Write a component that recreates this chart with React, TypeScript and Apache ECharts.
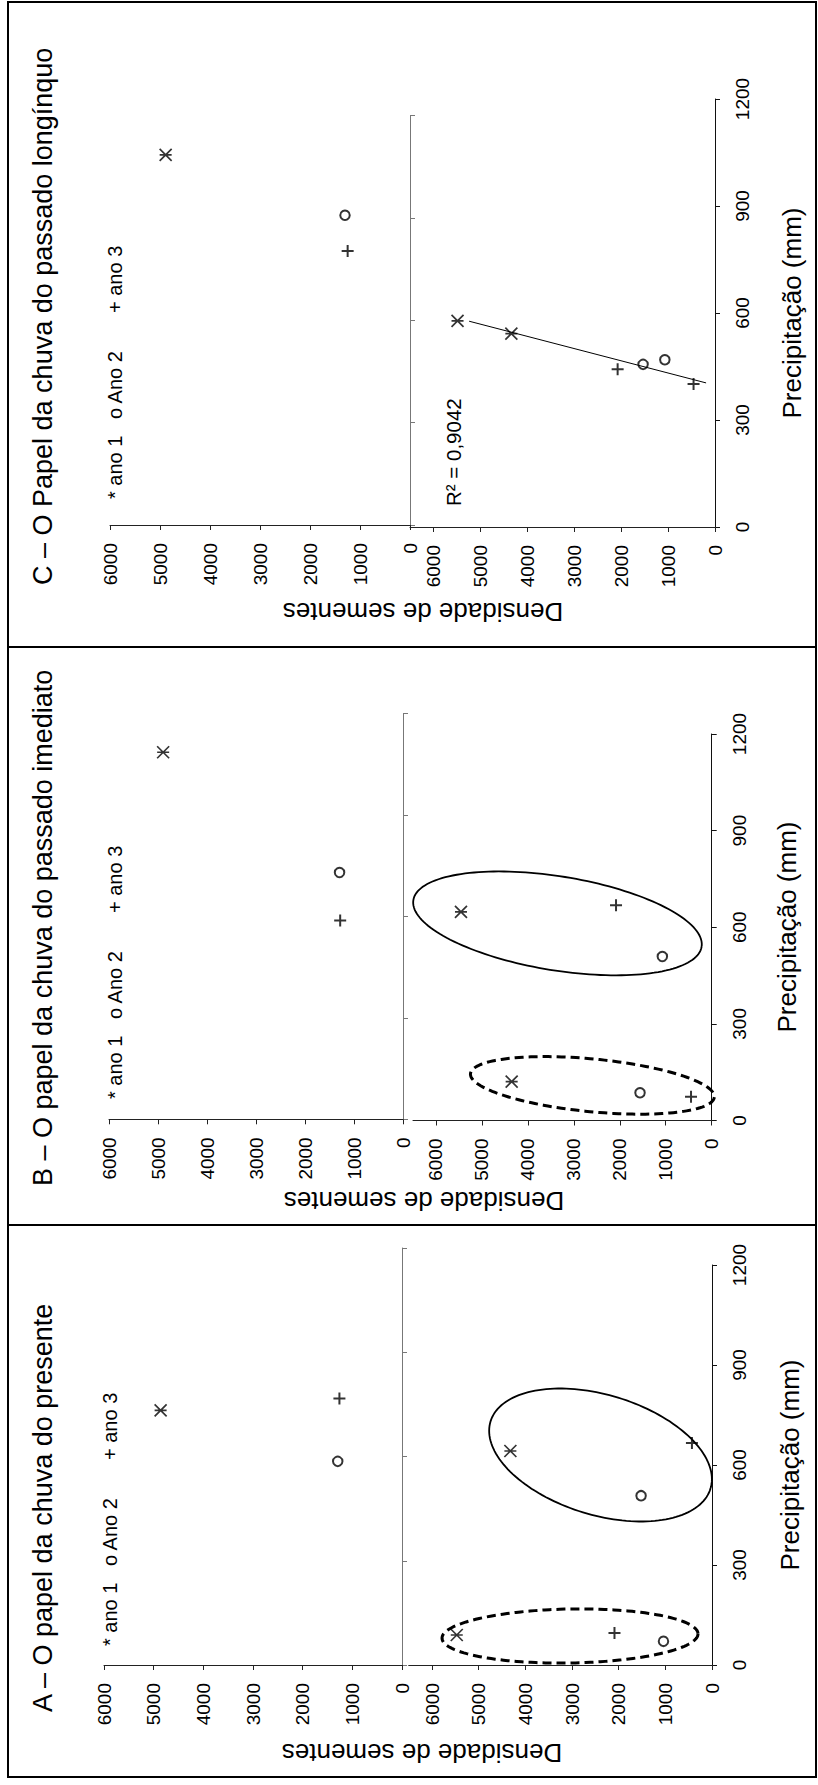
import React, { useEffect, useRef } from 'react';
import * as echarts from 'echarts';

const FONT = 'Liberation Sans, Arial, Helvetica, sans-serif';

// ---------- texts ----------
const panelTitles = [
  'A – O papel da chuva do presente',
  'B – O papel da chuva do passado imediato',
  'C – O Papel da chuva do passado longínquo',
];
const legendLabels = ['* ano 1', 'o Ano 2', '+ ano 3'];
const densityTitle = 'Densidade de sementes';
const precipTitle = 'Precipitação (mm)';
const r2Label = 'R² = 0,9042';

// ---------- tick values ----------
const densityTicks = [0, 1000, 2000, 3000, 4000, 5000, 6000];
const precipTicks = [0, 300, 600, 900, 1200];

// ---------- data: [density (seeds), precipitation (mm)] ----------
// Panel A – presente
const aUpperAno1 = [[4860, 733]];
const aUpperAno2 = [[1294, 586]];
const aUpperAno3 = [[1260, 767]];
const aLowerAno1 = [[5470, 90], [4321, 642]];
const aLowerAno2 = [[1040, 71], [1520, 508]];
const aLowerAno3 = [[2090, 96], [430, 666]];
// Panel B – passado imediato
const bUpperAno1 = [[4895, 1086]];
const bUpperAno2 = [[1295, 730]];
const bUpperAno3 = [[1282, 588]];
const bLowerAno1 = [[4353, 121], [5456, 648]];
const bLowerAno2 = [[1560, 86], [1074, 509]];
const bLowerAno3 = [[450, 74], [2082, 668]];
// Panel C – passado longínquo
const cUpperAno1 = [[4887, 1085]];
const cUpperAno2 = [[1300, 908]];
const cUpperAno3 = [[1247, 803]];
const cLowerAno1 = [[5487, 578], [4340, 542]];
const cLowerAno2 = [[1533, 456], [1069, 469]];
const cLowerAno3 = [[2075, 442], [457, 401]];
const cTrend = [[190, 404], [5240, 577]];

// ellipse centres (data units) – annotation groups
const aEllipseCentres = [[2389, 630], [3043, 87]];
const bEllipseCentres = [[3356, 612], [2596, 109]];

// ---------- layout (pixels) ----------
const ellipseShapesA = [
  { a: 115, b: 60, rot: 17, dashed: false },
  { a: 128, b: 27, rot: -1, dashed: true },
];
const ellipseShapesB = [
  { a: 146, b: 47, rot: 9.2, dashed: false },
  { a: 122.5, b: 26.4, rot: 5.5, dashed: true },
];

const layouts = [
  {
    upper: { left: 104, top: 1248, width: 298, height: 417 },
    lower: { left: 408.7, top: 1265, width: 303.3, height: 400 },
    title: [43, 1712], legend: [110, 1646], dens: [422, 1753], precip: [790, 1465],
  },
  {
    upper: { left: 109, top: 713.7, width: 294, height: 405.6 },
    lower: { left: 413, top: 734, width: 298.7, height: 386.5 },
    title: [43, 1186], legend: [115, 1099], dens: [424, 1201], precip: [787, 927],
  },
  {
    upper: { left: 110, top: 115.6, width: 300, height: 409.4 },
    lower: { left: 410, top: 99, width: 305, height: 428 },
    title: [43, 585], legend: [115, 499], dens: [423, 612], precip: [792, 313],
  },
];
const legendOffsets = [0, 80, 186];

const STAR = 'path://M0,0L12,12M12,0L0,12M0,6L12,6';
const PLUS = 'path://M0,6L12,6M6,0L6,12';

const panelData = [
  { upper: [aUpperAno1, aUpperAno2, aUpperAno3], lower: [aLowerAno1, aLowerAno2, aLowerAno3] },
  { upper: [bUpperAno1, bUpperAno2, bUpperAno3], lower: [bLowerAno1, bLowerAno2, bLowerAno3] },
  { upper: [cUpperAno1, cUpperAno2, cUpperAno3], lower: [cLowerAno1, cLowerAno2, cLowerAno3] },
];

const plainNumber = (v: number) => String(Math.round(v));

function markerSeries(gridIdx: number, sets: number[][][]) {
  const styles = [
    { symbol: STAR, symbolSize: 12, borderWidth: 1.7 },
    { symbol: 'circle', symbolSize: 9.5, borderWidth: 2 },
    { symbol: PLUS, symbolSize: 12, borderWidth: 2 },
  ];
  return sets.map((d, k) => ({
    type: 'scatter',
    name: legendLabels[k],
    xAxisIndex: gridIdx,
    yAxisIndex: gridIdx,
    data: d,
    symbol: styles[k].symbol,
    symbolSize: styles[k].symbolSize,
    clip: false,
    silent: true,
    z: 5,
    itemStyle: { color: 'rgba(0,0,0,0)', borderColor: '#000', borderWidth: styles[k].borderWidth },
  }));
}

function ellipseSeries(gridIdx: number, centres: number[][], shapes: any[]) {
  return {
    type: 'custom',
    xAxisIndex: gridIdx,
    yAxisIndex: gridIdx,
    clip: false,
    silent: true,
    z: 3,
    data: centres,
    renderItem: (params: any, api: any) => {
      const c = api.coord([api.value(0), api.value(1)]);
      const s = shapes[params.dataIndex];
      const th = (s.rot * Math.PI) / 180;
      const pts: number[][] = [];
      for (let k = 0; k <= 160; k++) {
        const t = (k / 160) * Math.PI * 2;
        const ex = s.a * Math.cos(t);
        const ey = s.b * Math.sin(t);
        pts.push([c[0] + ex * Math.cos(th) - ey * Math.sin(th), c[1] + ex * Math.sin(th) + ey * Math.cos(th)]);
      }
      return {
        type: 'polyline',
        shape: { points: pts },
        style: {
          fill: 'none',
          stroke: '#000',
          lineWidth: s.dashed ? 3 : 1.8,
          lineDash: s.dashed ? [9, 5] : null,
        },
      };
    },
  };
}

function buildOption() {
  const grids: any[] = [];
  const xAxes: any[] = [];
  const yAxes: any[] = [];
  const series: any[] = [];
  const graphics: any[] = [];

  layouts.forEach((L, p) => {
    [L.upper, L.lower].forEach((g, j) => {
      const idx = grids.length;
      const isLower = j === 1;
      grids.push({ ...g, containLabel: false });
      xAxes.push({
        gridIndex: idx,
        type: 'value',
        min: 0,
        max: isLower ? 6500 : 6000,
        inverse: true,
        position: 'bottom',
        axisLine: { show: true, onZero: false, lineStyle: { color: '#222', width: 1 } },
        axisTick: { show: true, length: 5, customValues: densityTicks, lineStyle: { color: '#222' } },
        axisLabel: {
          show: true,
          rotate: 90,
          margin: 18,
          customValues: densityTicks,
          formatter: plainNumber,
          fontSize: 19,
          fontFamily: FONT,
          color: '#000',
        },
        splitLine: { show: false },
      });
      yAxes.push({
        gridIndex: idx,
        type: 'value',
        min: 0,
        max: 1200,
        position: 'right',
        axisLine: { show: true, onZero: false, lineStyle: { color: isLower ? '#111' : '#777', width: 1 } },
        axisTick: { show: true, length: 5, customValues: precipTicks, lineStyle: { color: isLower ? '#111' : '#777' } },
        axisLabel: isLower
          ? {
              show: true,
              rotate: 90,
              margin: 18,
              customValues: precipTicks,
              formatter: plainNumber,
              fontSize: 19,
              fontFamily: FONT,
              color: '#000',
            }
          : { show: false },
        splitLine: { show: false },
      });
      const sets = isLower ? panelData[p].lower : panelData[p].upper;
      series.push(...markerSeries(idx, sets));
    });

    // texts
    graphics.push({
      type: 'text', x: L.title[0], y: L.title[1], rotation: Math.PI / 2,
      style: { text: panelTitles[p], font: `27px ${FONT}`, fill: '#000', textAlign: 'left', textVerticalAlign: 'middle' },
    });
    legendLabels.forEach((t, k) => {
      graphics.push({
        type: 'text', x: L.legend[0], y: L.legend[1] - legendOffsets[k], rotation: Math.PI / 2,
        style: { text: t, font: `20px ${FONT}`, fill: '#000', textAlign: 'left', textVerticalAlign: 'middle' },
      });
    });
    graphics.push({
      type: 'text', x: L.dens[0], y: L.dens[1], rotation: Math.PI,
      style: { text: densityTitle, font: `26px ${FONT}`, fill: '#000', textAlign: 'center', textVerticalAlign: 'middle' },
    });
    graphics.push({
      type: 'text', x: L.precip[0], y: L.precip[1], rotation: Math.PI / 2,
      style: { text: precipTitle, font: `26px ${FONT}`, fill: '#000', textAlign: 'center', textVerticalAlign: 'middle' },
    });
  });

  series.push(ellipseSeries(1, aEllipseCentres, ellipseShapesA));
  series.push(ellipseSeries(3, bEllipseCentres, ellipseShapesB));
  series.push({
    type: 'line',
    xAxisIndex: 5,
    yAxisIndex: 5,
    data: cTrend,
    symbol: 'none',
    silent: true,
    z: 2,
    lineStyle: { color: '#000', width: 1 },
  });

  graphics.push({
    type: 'text', x: 453, y: 506, rotation: Math.PI / 2,
    style: { text: r2Label, font: `20.5px ${FONT}`, fill: '#000', textAlign: 'left', textVerticalAlign: 'middle' },
  });

  // frame and panel dividers
  graphics.push({ type: 'rect', shape: { x: 8, y: 2, width: 808, height: 1775 }, style: { fill: 'none', stroke: '#000', lineWidth: 2 } });
  graphics.push({ type: 'line', shape: { x1: 8, y1: 647, x2: 816, y2: 647 }, style: { stroke: '#000', lineWidth: 2 } });
  graphics.push({ type: 'line', shape: { x1: 8, y1: 1225, x2: 816, y2: 1225 }, style: { stroke: '#000', lineWidth: 2 } });

  return {
    animation: false,
    backgroundColor: '#fff',
    grid: grids,
    xAxis: xAxes,
    yAxis: yAxes,
    series,
    graphic: graphics,
  };
}

export default function App() {
  const ref = useRef<HTMLDivElement>(null);
  useEffect(() => {
    if (!ref.current) return;
    const chart = echarts.init(ref.current, undefined, { renderer: 'svg' });
    chart.setOption(buildOption() as any);
    return () => chart.dispose();
  }, []);
  return (
    <div
      ref={ref}
      style={{ position: 'absolute', left: 0, top: 0, width: 818, height: 1785, background: '#fff' }}
    />
  );
}
